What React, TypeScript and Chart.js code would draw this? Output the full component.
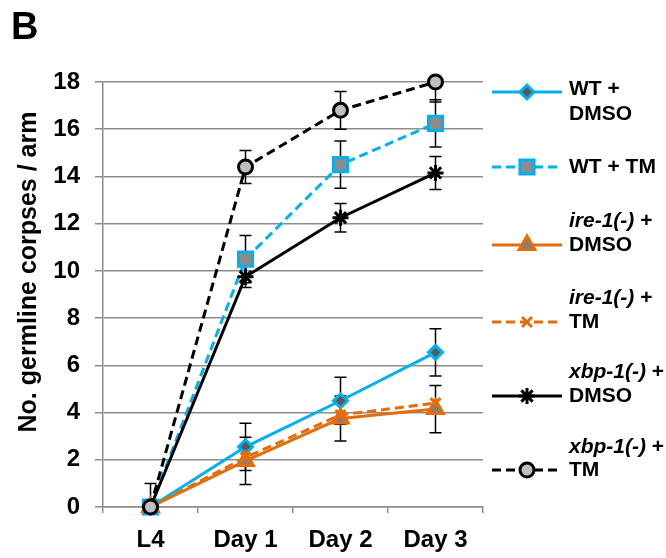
import React, { useEffect, useRef } from "react";
import { Chart, registerables } from "chart.js";
import { drawPoint } from "chart.js/helpers";

Chart.register(...registerables);

const categories = ["L4", "Day 1", "Day 2", "Day 3"];
const yTicks = [0, 2, 4, 6, 8, 10, 12, 14, 16, 18];

const wtDmso = [0, 2.55, 4.5, 6.55];
const wtDmsoErr = [1.0, 1.0, 1.0, 1.0];
const wtTm = [0, 10.5, 14.5, 16.25];
const wtTmErr = [0, 1.0, 1.0, 1.0];
const ireDmso = [0, 1.95, 3.75, 4.15];
const ireDmsoErr = [0, 1.0, 0.95, 1.0];
const ireTm = [0, 2.1, 3.9, 4.4];
const ireTmErr = [0, 0, 0, 0];
const xbpDmso = [0, 9.75, 12.25, 14.15];
const xbpDmsoErr = [0, 0.45, 0.6, 0.7];
const xbpTm = [0, 14.4, 16.8, 18.0];
const xbpTmErr = [0, 0.7, 0.8, 0.85];

const seriesNames = ["WT + DMSO", "WT + TM", "ire-1(-) + DMSO", "ire-1(-) + TM", "xbp-1(-) + DMSO", "xbp-1(-) + TM"];

// legend text lines, segments: [text, italic]
const legendLines: [string, boolean][][][] = [
  [[["WT +", false]], [["DMSO", false]]],
  [[["WT + TM", false]]],
  [[["ire-1(-)", true], [" +", false]], [["DMSO", false]]],
  [[["ire-1(-)", true], [" +", false]], [["TM", false]]],
  [[["xbp-1(-)", true], [" +", false]], [["DMSO", false]]],
  [[["xbp-1(-)", true], [" +", false]], [["TM", false]]],
];

const yTitle = "No. germline corpses / arm";
const panelLabel = "B";

const CYAN = "#00B0F0";
const ORANGE = "#E46C0A";
const BLACK = "#000000";
const GRID = "#8c8c8c";
const FONT = "'Liberation Sans', Arial, sans-serif";

// legend layout: line y and text line ys
const legendLayout = [
  { line: 92, texts: [89, 114] },
  { line: 167, texts: [167] },
  { line: 245, texts: [221, 245] },
  { line: 322, texts: [298, 322] },
  { line: 396, texts: [372, 396] },
  { line: 470, texts: [447, 470] },
];

const errorArrays = [wtDmsoErr, wtTmErr, ireDmsoErr, ireTmErr, xbpDmsoErr, xbpTmErr];

const errorBarPlugin = {
  id: "errorBars",
  beforeDatasetsDraw(chart: any) {
    const ctx = chart.ctx;
    const y = chart.scales.y;
    const area = chart.chartArea;
    ctx.save();
    ctx.beginPath();
    ctx.rect(area.left - 20, area.top, area.right - area.left + 40, area.bottom - area.top);
    ctx.clip();
    ctx.strokeStyle = "#000";
    ctx.lineWidth = 1.5;
    chart.data.datasets.forEach((ds: any, i: number) => {
      const meta = chart.getDatasetMeta(i);
      const errs = errorArrays[i];
      meta.data.forEach((pt: any, j: number) => {
        const e = errs[j];
        if (!e) return;
        const v = ds.data[j];
        const yt = y.getPixelForValue(v + e);
        const yb = y.getPixelForValue(v - e);
        const x = pt.x;
        ctx.beginPath();
        ctx.moveTo(x, yt);
        ctx.lineTo(x, yb);
        ctx.moveTo(x - 6, yt);
        ctx.lineTo(x + 6, yt);
        ctx.moveTo(x - 6, yb);
        ctx.lineTo(x + 6, yb);
        ctx.stroke();
      });
    });
    ctx.restore();
  },
};

const decorPlugin = {
  id: "decor",
  afterDraw(chart: any) {
    const ctx = chart.ctx;
    const area = chart.chartArea;
    ctx.save();
    // panel label
    ctx.fillStyle = "#000";
    ctx.font = `bold 38px ${FONT}`;
    ctx.textAlign = "left";
    ctx.textBaseline = "alphabetic";
    ctx.fillText(panelLabel, 11, 39);
    // y title
    ctx.save();
    ctx.translate(29, 272);
    ctx.rotate(-Math.PI / 2);
    ctx.font = `bold 25px ${FONT}`;
    ctx.textAlign = "center";
    ctx.textBaseline = "middle";
    ctx.fillText(yTitle, 0, 0);
    ctx.restore();
    // legend
    const x0 = area.right + 9;
    const x1 = x0 + 70;
    const xm = (x0 + x1) / 2;
    const tx = x1 + 7;
    chart.data.datasets.forEach((ds: any, i: number) => {
      const lay = legendLayout[i];
      ctx.save();
      ctx.strokeStyle = ds.borderColor;
      ctx.lineWidth = ds.borderWidth;
      ctx.setLineDash(ds.borderDash || []);
      ctx.beginPath();
      ctx.moveTo(x0, lay.line);
      ctx.lineTo(x1, lay.line);
      ctx.stroke();
      ctx.setLineDash([]);
      ctx.strokeStyle = ds.pointBorderColor;
      ctx.fillStyle = ds.pointBackgroundColor;
      ctx.lineWidth = ds.pointBorderWidth;
      drawPoint(ctx, { pointStyle: ds.pointStyle, radius: ds.pointRadius, rotation: 0, borderWidth: ds.pointBorderWidth }, xm, lay.line);
      ctx.restore();
      ctx.fillStyle = "#000";
      ctx.textBaseline = "middle";
      ctx.textAlign = "left";
      legendLines[i].forEach((line, k) => {
        let x = tx;
        line.forEach(([t, it]) => {
          ctx.font = `${it ? "italic " : ""}bold 21px ${FONT}`;
          ctx.fillText(t, x, lay.texts[k]);
          x += ctx.measureText(t).width;
        });
      });
    });
    ctx.restore();
  },
};

export default function App() {
  const ref = useRef<HTMLCanvasElement | null>(null);
  useEffect(() => {
    if (!ref.current) return;
    Chart.defaults.font.family = FONT;
    Chart.defaults.color = "#000";
    const mk = (label: string, data: number[], color: string, dash: number[], style: string, radius: number, fill: string, idx: number) => ({
      label,
      data,
      borderColor: color,
      borderWidth: 3,
      borderDash: dash,
      pointStyle: style,
      pointRadius: radius,
      pointBackgroundColor: fill,
      pointBorderColor: color,
      pointBorderWidth: 3,
      tension: 0,
      fill: false,
      clip: false as any,
      order: 10 - idx,
    });
    const chart = new Chart(ref.current, {
      type: "line",
      data: {
        labels: categories,
        datasets: [
          mk(seriesNames[0], wtDmso, CYAN, [], "rectRot", 7, "#595959", 0),
          mk(seriesNames[1], wtTm, CYAN, [9, 5], "rect", 10, "#8c8c8c", 1),
          mk(seriesNames[2], ireDmso, ORANGE, [], "triangle", 9, "#7f7f7f", 2),
          mk(seriesNames[3], ireTm, ORANGE, [9, 5], "crossRot", 7, ORANGE, 3),
          mk(seriesNames[4], xbpDmso, BLACK, [], "star", 8, BLACK, 4),
          mk(seriesNames[5], xbpTm, BLACK, [9, 5], "circle", 7, "#BFBFBF", 5),
        ] as any,
      },
      options: {
        animation: false,
        responsive: false,
        maintainAspectRatio: false,
        layout: { padding: { left: 0, right: 183, top: 82, bottom: 0 } },
        plugins: { legend: { display: false }, tooltip: { enabled: false } },
        scales: {
          x: {
            type: "category",
            offset: true,
            grid: { display: true, drawOnChartArea: false, tickLength: 6, color: GRID, lineWidth: 1.5, offset: true },
            border: { display: true, color: GRID, width: 1.5 },
            ticks: { font: { size: 24, weight: "bold" }, color: "#000", padding: 13, maxRotation: 0 },
            afterFit: (s: any) => {
              s.height = 51;
            },
          },
          y: {
            min: 0,
            max: 18,
            afterBuildTicks: (s: any) => {
              s.ticks = yTicks.map((v) => ({ value: v }));
            },
            grid: { color: GRID, lineWidth: 1.5, tickLength: 8 },
            border: { display: true, color: GRID, width: 1.5 },
            ticks: { font: { size: 24, weight: "bold" }, color: "#000", padding: 15 },
            afterFit: (s: any) => {
              s.width = 103;
            },
          },
        },
      },
      plugins: [errorBarPlugin, decorPlugin],
    });
    return () => chart.destroy();
  }, []);
  return (
    <div style={{ position: "absolute", left: 0, top: 0, width: 666, height: 558, background: "#fff" }}>
      <canvas ref={ref} width={666} height={558} style={{ display: "block" }} />
    </div>
  );
}
